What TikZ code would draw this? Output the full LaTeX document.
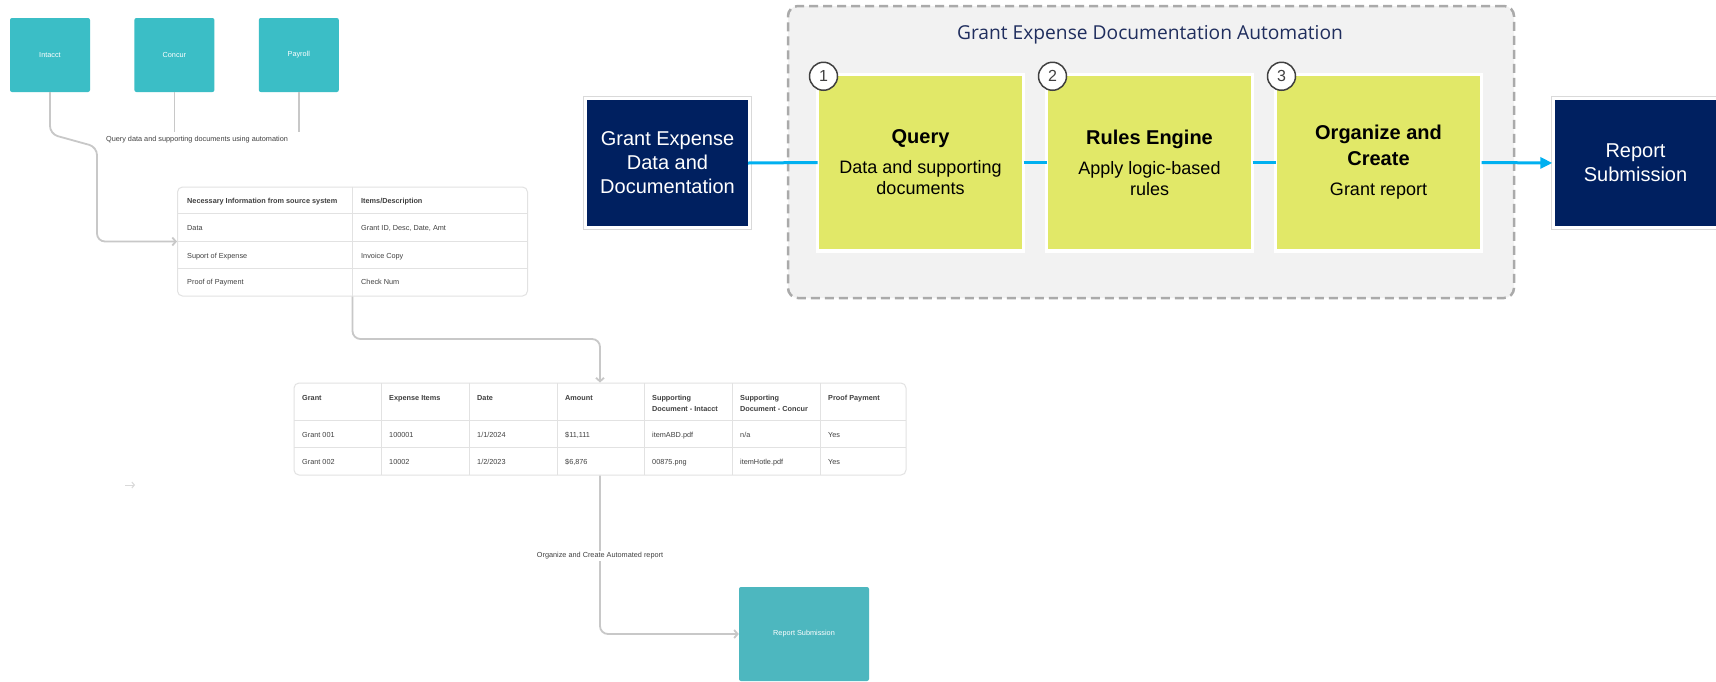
\documentclass[tikz,border=0pt]{standalone}
\usepackage{fontspec}
\setmainfont{Liberation Sans}
\newfontfamily\headfont{Open Sans}
\usetikzlibrary{arrows.meta,positioning,calc}

\definecolor{srcteal}{RGB}{59,190,198}
\definecolor{outteal}{RGB}{77,183,191}
\definecolor{navyblue}{RGB}{0,32,96}
\definecolor{stepyellow}{RGB}{225,232,104}
\definecolor{flowblue}{RGB}{0,176,240}
\definecolor{wiregray}{RGB}{200,200,200}
\definecolor{rulegray}{RGB}{226,226,226}
\definecolor{panelgray}{RGB}{242,242,242}
\definecolor{dashgray}{RGB}{170,170,170}
\definecolor{textgray}{RGB}{64,64,64}
\definecolor{titleblue}{RGB}{32,46,94}

\newcommand{\cellfont}{\fontsize{7.3}{11}\selectfont}
\newcommand{\stephead}{\fontsize{20}{21}\selectfont\bfseries}
\newcommand{\stepsub}{\fontsize{18}{21}\selectfont\mdseries}

\begin{document}
\begin{tikzpicture}[x=1pt,y=-1pt]
    \tikzstyle{every node}=[font=\cellfont,text=textgray,inner sep=0pt]
    \tikzstyle{srcbox}=[fill=srcteal,rounded corners=2pt,minimum width=80pt,minimum height=74pt,text=white]
    \tikzstyle{wire}=[draw=wiregray,line width=1.8pt,rounded corners=8pt]
    \tikzstyle{wiretip}=[-{Straight Barb[length=3.5pt,width=8pt]}]
    \tikzstyle{gridbox}=[draw=rulegray,line width=1pt,rounded corners=5pt]
    \tikzstyle{gridline}=[draw=rulegray,line width=0.8pt]
    \tikzstyle{cell}=[anchor=base west]
    \tikzstyle{panel}=[draw=dashgray,fill=panelgray,line width=2.5pt,dash pattern=on 9pt off 5pt,rounded corners=10pt,minimum width=726pt,minimum height=292pt]
    \tikzstyle{endbox}=[fill=navyblue,text=white,font=\fontsize{20}{24}\selectfont,align=center,minimum width=161pt,minimum height=126pt]
    \tikzstyle{stepbox}=[fill=stepyellow,draw=white,line width=3.5pt,outer sep=0pt,minimum width=206pt,minimum height=176.5pt,text=black,align=center,font=\stepsub]
    \tikzstyle{numdot}=[circle,fill=white,draw=textgray,line width=1.5pt,minimum size=28pt,font=\fontsize{16}{16}\selectfont]
    \tikzstyle{flow}=[draw=flowblue,line width=3pt]

    \fill[white] (0,0) rectangle (1716,681);
    \useasboundingbox (0,0) rectangle (1716,681);

    \node[srcbox] (intacct) at (50,55) {Intacct};
    \node[srcbox,right=44pt of intacct] (concur) {Concur};
    \node[srcbox,right=44pt of concur] (payroll) {Payroll};

    \coordinate (concurend) at (concur.south |- 0,132);
    \coordinate (payrollend) at (payroll.south |- 0,132);
    \draw[wire] (concur.south) -- (concurend);
    \draw[wire] (payroll.south) -- (payrollend);
    \node (querynote) at (197,140) {Query data and supporting documents using automation};

    \node[gridbox,minimum width=350pt,minimum height=109pt] (needs) at (352.5,241.5) {};
    \draw[gridline] (needs.north) -- (needs.south);
    \foreach \y in {213,241,268}
        \draw[gridline] (needs.west |- 0,\y) -- (needs.east |- 0,\y);
    \node[cell,font=\cellfont\bfseries] (needh1) at (187,203.5) {Necessary Information from source system};
    \node[cell,font=\cellfont\bfseries] (needh2) at (361,203.5) {Items/Description};
    \node[cell] (needa1) at (187,230.5) {Data};
    \node[cell] (needa2) at (361,230.5) {Grant ID, Desc, Date, Amt};
    \node[cell] (needb1) at (187,258.5) {Suport of Expense};
    \node[cell] (needb2) at (361,258.5) {Invoice Copy};
    \node[cell] (needc1) at (187,284.5) {Proof of Payment};
    \node[cell] (needc2) at (361,284.5) {Check Num};

    \draw[wire,wiretip] (intacct.south) -- (50,134) -- (97,147) -- (97,241.5) -- (needs.west);

    \node[gridbox,minimum width=612pt,minimum height=92pt] (grants) at (600,429) {};
    \foreach \x in {381,469,557,644,732,820}
        \draw[gridline] (\x,383) -- (\x,475);
    \foreach \y in {420,447}
        \draw[gridline] (294,\y) -- (906,\y);
    \foreach \x/\h/\a/\b [count=\i] in {
        302/Grant/Grant 001/Grant 002,
        389/Expense Items/100001/10002,
        477/Date/{1/1/2024}/{1/2/2023},
        565/Amount/{\$11,111}/{\$6,876},
        652/{Supporting\\Document - Intacct}/itemABD.pdf/00875.png,
        740/{Supporting\\Document - Concur}/{n/a}/itemHotle.pdf,
        828/Proof Payment/Yes/Yes}
    {
        \node[anchor=north west,align=left,font=\cellfont\bfseries] (gridh\i) at (\x,395) {\h};
        \node[cell] (grida\i) at (\x,437) {\a};
        \node[cell] (gridb\i) at (\x,464) {\b};
    }

    \draw[wire,wiretip] (needs.south) -- (352.5,339) -- (600,339) -- (grants.north);

    \node[srcbox,fill=outteal,minimum width=130pt,minimum height=94pt] (submit) at (804,634) {Report Submission};
    \draw[wire,wiretip] (grants.south) -- (600,634) -- (submit.west);
    \node[fill=white,inner sep=2pt] (reportnote) at (600,556) {Organize and Create Automated report};

    \coordinate (straystart) at (125,485);
    \coordinate (strayend) at (135,485);
    \draw[draw=wiregray!70,line width=1pt,-{Straight Barb[length=2.5pt,width=6pt]}] (straystart) -- (strayend);

    \node[panel] (automation) at (1151,152) {};
    \node[font=\headfont\fontsize{19.2}{22}\selectfont,text=titleblue] (paneltitle) at (1150,35) {Grant Expense Documentation Automation};

    \node[endbox] (source) at (667.5,163) {Grant Expense\\Data and\\Documentation};
    \node[endbox] (report) at (1635.5,163) {Report\\Submission};
    \draw[draw=black!15,line width=0.8pt] ($(source.north west)+(-3,-3)$) rectangle ($(source.south east)+(3,3)$);
    \draw[draw=black!15,line width=0.8pt] ($(report.north west)+(-3,-3)$) rectangle ($(report.south east)+(3,3)$);

    \node[stepbox] (query) at (920.5,162.5) {\stephead Query\\[9pt]\stepsub Data and supporting\\\stepsub documents};
    \node[stepbox,right=23pt of query] (rules) {\stephead Rules Engine\\[9pt]\stepsub Apply logic-based\\\stepsub rules};
    \node[stepbox,right=23pt of rules] (organize) {\stephead Organize and\\[5pt]\stephead Create\\[9pt]\stepsub Grant report};

    \draw[flow] (source.east) -- (query.west);
    \draw[flow] (query.east) -- (rules.west);
    \draw[flow] (rules.east) -- (organize.west);
    \draw[flow,-{Triangle[length=12pt,width=11pt]},shorten >=2.5pt] (organize.east) -- (report.west);

    \node[numdot] (dotone) at ($(query.north west)+(6,2)$) {1};
    \node[numdot] (dottwo) at ($(rules.north west)+(6,2)$) {2};
    \node[numdot] (dotthree) at ($(organize.north west)+(6,2)$) {3};

\end{tikzpicture}
\end{document}
